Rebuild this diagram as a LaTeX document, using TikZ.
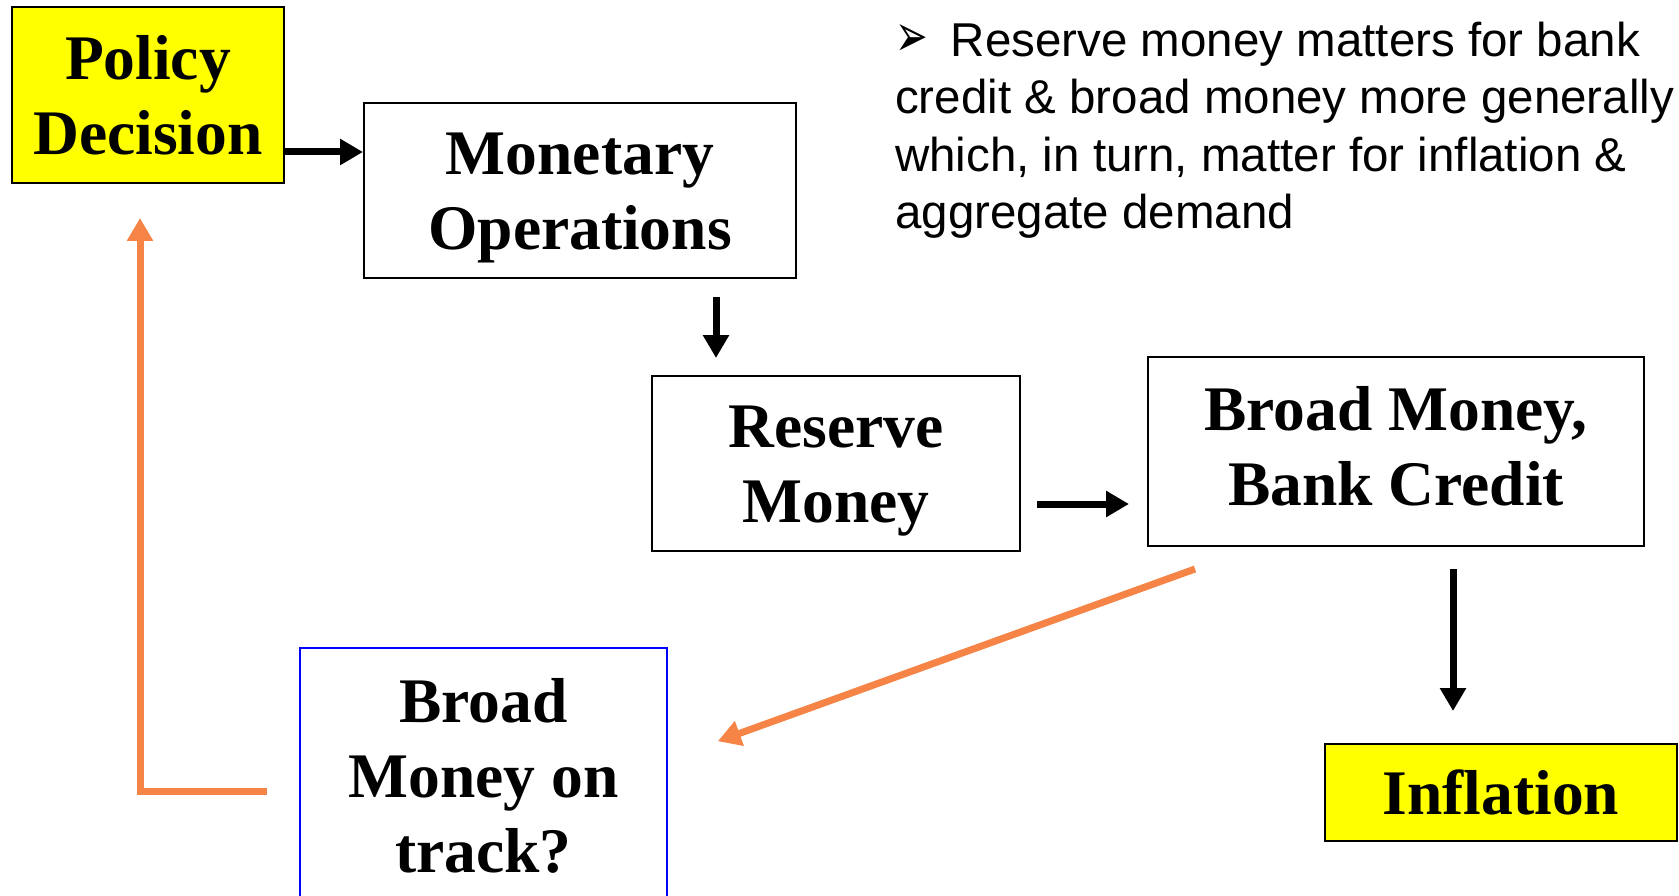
\documentclass[tikz,border=0pt]{standalone}
\usepackage{fontspec}
\usepackage{graphicx}
\setmainfont{Liberation Serif}
\newfontfamily\arialfont{Liberation Sans}
\newfontfamily\symfont{DejaVu Sans}
\usetikzlibrary{positioning,arrows.meta}
\definecolor{loopcol}{RGB}{246,132,70}
\definecolor{hilite}{RGB}{255,255,0}

\begin{document}
\begin{tikzpicture}
[x=1pt,y=-1pt,
box/.style={draw,line width=2pt,align=center,inner sep=0pt,
  font=\fontsize{63.5}{75}\selectfont\bfseries},
flow/.style={line width=7pt,-{Triangle[length=23pt,width=25pt]}},
back/.style={flow,loopcol}]
\useasboundingbox (0,0) rectangle (1679,896);
\node[box,fill=hilite,minimum width=272pt,minimum height=176pt](pd) at (148,95){Policy\\Decision};
\node[box,minimum width=432pt,minimum height=175pt](mo) at (580,190.5){\rule{0pt}{57pt}Monetary\\Operations};
\node[box,minimum width=368pt,minimum height=175pt](rm) at (836,463.5){\rule{0pt}{57pt}Reserve\\Money};
\node[box,minimum width=496pt,minimum height=189pt](bm) at (1396,451.5){Broad Money,\\Bank Credit\rule[-11pt]{0pt}{11pt}};
\node[box,fill=hilite,minimum width=352pt,minimum height=97pt](inf) at (1501,792.5){Inflation};
\node[box,draw=blue,line width=1.5pt,minimum width=367pt,minimum height=256pt](trk) at (483.5,776){Broad\\Money on\\track?};
\node[anchor=base west,align=left,inner sep=0pt,
  font=\arialfont\fontsize{47.5}{57.5}\selectfont](note) at (895,229)
  {\scalebox{0.65}[1]{\symfont\fontsize{60}{57}\selectfont ➢}\hspace{23pt}Reserve money matters for bank\\
  credit \& broad money more generally\\
  which, in turn, matter for inflation \&\\
  aggregate demand};
\draw[flow] ([yshift=-57pt]pd.east) -- ([yshift=-57pt]pd.east -| mo.west);
\draw[flow,shorten <=18pt,shorten >=17pt] ([xshift=136pt]mo.south) -- ([xshift=136pt]mo.south |- rm.north);
\draw[flow,shorten <=16pt,shorten >=18pt] ([yshift=-40.5pt]rm.east) -- ([yshift=-40.5pt]rm.east -| bm.west);
\draw[flow,shorten <=22pt,shorten >=32pt] ([xshift=57pt]bm.south) -- ([xshift=57pt]bm.south |- inf.north);
\coordinate (dstart) at ([shift={(48pt,-22pt)}]bm.south west);
\coordinate (dend) at ([shift={(50pt,-94pt)}]trk.north east);
\draw[back] (dstart) -- (dend);
\draw[back] ([shift={(-32pt,-15pt)}]trk.west) -| ([shift={(-8pt,-34pt)}]pd.south);
\end{tikzpicture}
\end{document}
